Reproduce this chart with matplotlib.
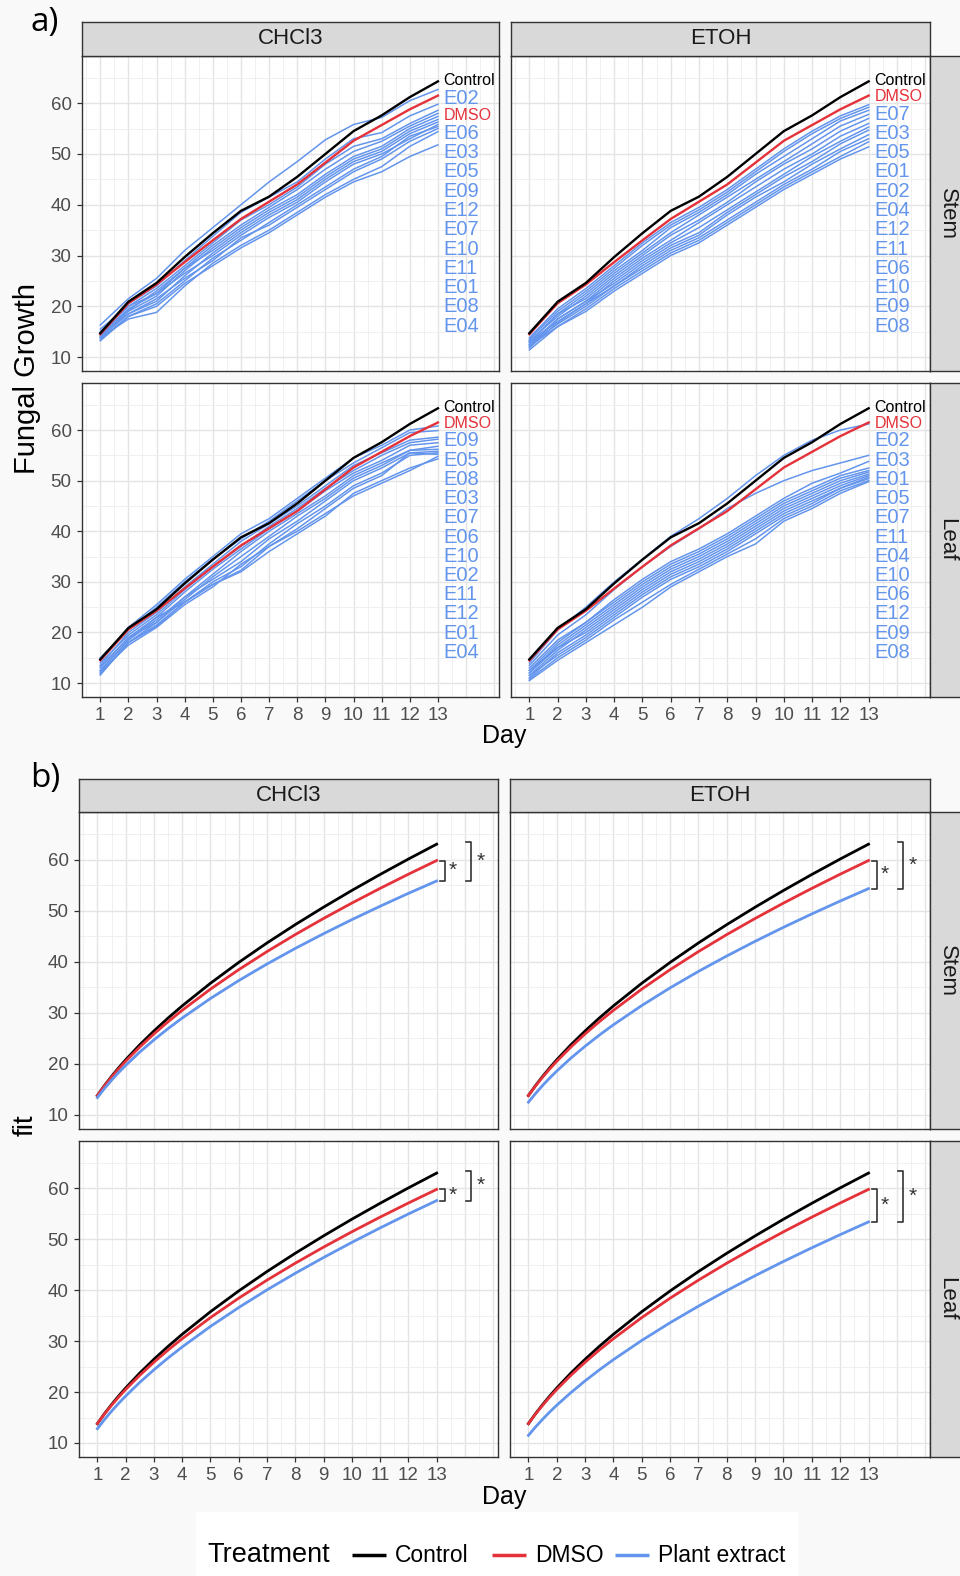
# wykres: wzrost grzyba - a) pomiary, b) dopasowanie

from matplotlib import pyplot as plt
import numpy as np

plt.rcParams['font.family'] = ['Liberation Sans', 'DejaVu Sans']

# ---------------- dane ----------------
days = list(range(1, 14))
parts = ['Stem', 'Leaf']
solvents = ['CHCl3', 'ETOH']
extracts = ['E01', 'E02', 'E03', 'E04', 'E05', 'E06',
            'E07', 'E08', 'E09', 'E10', 'E11', 'E12']
treatments = ['Control', 'DMSO', 'Plant extract']

control = [14.7, 20.9, 24.6, 29.7, 34.4, 38.8, 41.6, 45.5, 50.0, 54.5, 57.6, 61.2, 64.3]
dmso = [14.5, 20.6, 24.3, 28.7, 33.0, 37.2, 40.6, 44.0, 48.3, 52.6, 55.7, 58.8, 61.5]

# ekstrakty E01..E12
stem_chcl3 = [
    [14.5, 18.5, 21.5, 25.5, 29.0, 33.5, 36.0, 39.5, 43.0, 46.5, 49.0, 52.5, 55.0],
    [16.3, 21.5, 25.5, 31.0, 35.5, 40.0, 44.5, 48.5, 52.8, 55.8, 57.2, 60.5, 62.7],
    [14.8, 20.0, 23.5, 28.0, 32.5, 37.0, 40.0, 43.5, 48.0, 51.5, 53.0, 56.0, 58.6],
    [13.2, 18.0, 20.0, 24.5, 28.0, 31.5, 34.5, 38.0, 41.5, 44.5, 46.5, 49.5, 51.8],
    [14.5, 19.5, 22.5, 27.5, 32.0, 36.0, 39.5, 43.0, 47.0, 50.5, 52.5, 55.5, 58.0],
    [15.0, 20.5, 24.0, 29.0, 33.8, 38.5, 41.5, 44.5, 49.0, 53.0, 54.2, 57.5, 59.8],
    [13.8, 18.5, 21.0, 26.0, 30.5, 34.5, 38.0, 41.0, 45.0, 48.5, 50.5, 54.0, 56.3],
    [13.8, 17.5, 18.8, 24.0, 28.5, 32.0, 35.0, 38.5, 42.0, 45.0, 47.5, 51.5, 54.4],
    [14.0, 19.0, 22.0, 27.0, 31.5, 35.5, 39.0, 42.0, 46.0, 49.5, 51.5, 55.0, 57.4],
    [15.5, 20.0, 22.5, 26.5, 30.0, 34.0, 37.5, 40.5, 44.5, 48.0, 50.0, 53.0, 55.8],
    [13.5, 18.0, 20.5, 25.0, 29.5, 33.0, 36.5, 40.0, 43.5, 47.0, 49.5, 53.5, 55.4],
    [14.2, 19.2, 23.0, 27.5, 31.0, 35.0, 38.5, 41.5, 45.5, 49.0, 51.0, 54.5, 56.8],
]
stem_etoh = [
    [13.2, 18.0, 22.0, 26.5, 30.5, 34.5, 38.0, 41.5, 45.0, 48.5, 52.0, 55.5, 57.8],
    [12.8, 18.5, 21.5, 26.0, 30.0, 34.0, 37.0, 40.5, 44.5, 48.0, 51.0, 54.5, 57.0],
    [13.5, 19.0, 23.0, 27.5, 32.0, 36.0, 39.0, 42.5, 46.5, 50.5, 54.0, 57.0, 59.2],
    [12.5, 17.5, 21.0, 25.5, 29.5, 33.0, 36.5, 40.0, 43.5, 47.0, 50.0, 53.5, 56.0],
    [13.0, 18.5, 22.5, 27.0, 31.0, 35.5, 38.5, 42.0, 46.0, 49.5, 53.0, 56.5, 58.6],
    [12.5, 16.5, 20.0, 24.0, 28.0, 31.5, 34.0, 38.0, 41.5, 44.5, 48.0, 51.0, 53.8],
    [13.8, 19.5, 23.5, 28.0, 32.5, 36.5, 39.5, 43.0, 47.0, 51.0, 54.5, 57.5, 59.7],
    [11.4, 16.0, 19.0, 23.0, 26.5, 30.0, 32.5, 36.0, 39.5, 43.0, 46.0, 49.0, 51.4],
    [12.2, 16.0, 19.5, 23.5, 27.0, 30.5, 33.0, 36.5, 40.0, 43.5, 46.5, 49.5, 52.4],
    [11.8, 16.8, 20.5, 24.0, 27.5, 31.0, 33.5, 37.0, 40.5, 44.0, 47.0, 50.5, 53.0],
    [12.0, 17.5, 21.0, 24.5, 28.5, 32.0, 34.5, 38.5, 42.0, 45.5, 48.5, 52.0, 54.7],
    [13.0, 17.0, 20.5, 25.0, 29.0, 32.5, 35.5, 39.0, 42.5, 46.0, 49.5, 52.5, 55.3],
]
leaf_chcl3 = [
    [12.2, 17.5, 21.0, 25.5, 29.0, 33.5, 37.0, 40.0, 43.5, 47.0, 49.5, 52.0, 54.8],
    [13.2, 19.0, 22.0, 27.0, 30.5, 34.0, 38.5, 42.0, 46.0, 50.0, 52.5, 55.5, 55.8],
    [14.0, 19.5, 23.5, 28.5, 33.0, 37.0, 41.0, 44.5, 48.5, 52.0, 55.0, 57.5, 58.2],
    [11.6, 18.0, 21.2, 26.0, 29.5, 32.0, 36.0, 39.5, 43.0, 47.5, 50.0, 52.5, 54.3],
    [15.0, 20.5, 25.0, 30.0, 34.5, 38.5, 42.0, 46.0, 50.0, 53.5, 56.5, 59.5, 59.9],
    [12.5, 18.5, 22.5, 27.0, 31.5, 36.0, 40.0, 43.5, 47.0, 51.0, 53.5, 56.0, 56.8],
    [13.0, 19.0, 23.0, 28.0, 32.5, 36.5, 40.5, 44.0, 48.0, 51.5, 54.0, 57.0, 57.5],
    [13.5, 20.0, 24.0, 29.0, 33.5, 38.0, 41.5, 45.0, 49.0, 53.0, 55.5, 58.0, 58.6],
    [14.5, 21.0, 25.5, 30.5, 35.0, 39.5, 42.5, 46.5, 50.5, 54.5, 57.0, 60.0, 60.8],
    [12.0, 18.0, 22.0, 26.5, 31.0, 35.0, 39.0, 43.0, 46.5, 50.5, 53.0, 56.0, 56.2],
    [12.5, 18.5, 23.0, 26.0, 30.0, 33.0, 37.5, 41.5, 45.0, 49.0, 51.5, 55.0, 55.5],
    [11.8, 18.0, 21.5, 26.0, 29.5, 32.3, 37.0, 40.5, 44.5, 48.5, 51.0, 55.5, 55.2],
]
leaf_etoh = [
    [12.5, 18.0, 22.0, 26.5, 30.5, 34.0, 36.5, 39.5, 43.0, 46.5, 49.5, 51.5, 53.8],
    [14.0, 20.5, 25.0, 30.0, 34.5, 39.0, 42.5, 46.5, 51.0, 55.0, 58.0, 60.0, 61.2],
    [13.5, 19.5, 23.5, 28.5, 33.0, 37.0, 40.5, 44.5, 47.5, 50.0, 52.0, 53.5, 55.0],
    [11.5, 16.5, 20.5, 24.5, 28.5, 32.0, 34.5, 37.5, 41.0, 44.5, 47.0, 49.5, 51.3],
    [13.0, 18.5, 22.0, 26.0, 30.0, 33.5, 36.0, 39.0, 42.5, 46.0, 48.5, 51.0, 52.5],
    [11.0, 16.0, 19.5, 23.5, 27.5, 31.0, 33.5, 36.5, 40.0, 43.5, 46.0, 48.5, 50.7],
    [12.0, 17.5, 21.5, 25.5, 29.5, 33.0, 35.5, 38.5, 42.0, 45.5, 48.0, 50.5, 52.0],
    [10.5, 14.5, 18.0, 21.5, 25.0, 29.0, 32.0, 35.0, 37.5, 42.0, 44.5, 47.5, 49.8],
    [10.8, 15.0, 18.5, 22.5, 26.0, 29.5, 32.5, 35.5, 38.5, 42.5, 45.0, 48.0, 50.0],
    [12.0, 17.0, 20.0, 24.0, 28.0, 31.5, 34.0, 37.0, 40.5, 44.0, 46.5, 49.0, 51.0],
    [12.5, 17.0, 21.0, 25.0, 29.0, 32.5, 35.0, 38.0, 41.5, 45.0, 47.5, 50.0, 51.7],
    [11.5, 15.5, 19.0, 23.0, 27.0, 30.5, 33.0, 36.0, 39.5, 43.0, 45.5, 48.5, 50.4],
]

# kolejnosc etykiet przy koncach linii
stem_chcl3_order = ['Control', 'E02', 'DMSO', 'E06', 'E03', 'E05', 'E09', 'E12',
                    'E07', 'E10', 'E11', 'E01', 'E08', 'E04']
stem_etoh_order = ['Control', 'DMSO', 'E07', 'E03', 'E05', 'E01', 'E02', 'E04',
                   'E12', 'E11', 'E06', 'E10', 'E09', 'E08']
leaf_chcl3_order = ['Control', 'DMSO', 'E09', 'E05', 'E08', 'E03', 'E07', 'E06',
                    'E10', 'E02', 'E11', 'E12', 'E01', 'E04']
leaf_etoh_order = ['Control', 'DMSO', 'E02', 'E03', 'E01', 'E05', 'E07', 'E11',
                   'E04', 'E10', 'E06', 'E12', 'E09', 'E08']

# dopasowanie (b)
fit_days = [1, 1.25, 1.5, 1.75, 2, 2.5, 3, 3.5, 4, 5, 6, 7, 8, 9, 10, 11, 12, 13]
fit_control = [13.8, 15.75, 17.54, 19.22, 20.80, 23.74, 26.44, 28.97, 31.35, 35.78,
               39.86, 43.67, 47.26, 50.67, 53.94, 57.07, 60.09, 63.0]
fit_dmso = [13.8, 15.68, 17.40, 19.00, 20.51, 23.30, 25.86, 28.25, 30.48, 34.63,
            38.44, 41.98, 45.31, 48.46, 51.47, 54.35, 57.12, 59.80]
fit_stem_chcl3 = [13.4, 15.17, 16.79, 18.29, 19.70, 22.31, 24.69, 26.90, 28.97, 32.80,
                  36.30, 39.55, 42.60, 45.48, 48.23, 50.85, 53.38, 55.80]
fit_stem_etoh = [12.5, 14.20, 15.77, 17.22, 18.59, 21.13, 23.45, 25.62, 27.65, 31.42,
                 34.88, 38.10, 41.12, 43.99, 46.73, 49.35, 51.87, 54.30]
fit_leaf_chcl3 = [12.8, 14.59, 16.24, 17.77, 19.22, 21.91, 24.38, 26.69, 28.86, 32.89,
                  36.60, 40.07, 43.33, 46.42, 49.39, 52.23, 54.97, 57.60]
fit_leaf_etoh = [11.5, 13.14, 14.66, 16.08, 17.42, 19.90, 22.20, 24.35, 26.37, 30.14,
                 33.62, 36.87, 39.93, 42.86, 45.65, 48.33, 50.91, 53.41]

raw = {('Stem', 'CHCl3'): (stem_chcl3, stem_chcl3_order),
       ('Stem', 'ETOH'): (stem_etoh, stem_etoh_order),
       ('Leaf', 'CHCl3'): (leaf_chcl3, leaf_chcl3_order),
       ('Leaf', 'ETOH'): (leaf_etoh, leaf_etoh_order)}
fits = {('Stem', 'CHCl3'): fit_stem_chcl3, ('Stem', 'ETOH'): fit_stem_etoh,
        ('Leaf', 'CHCl3'): fit_leaf_chcl3, ('Leaf', 'ETOH'): fit_leaf_etoh}

# ---------------- wyglad ----------------
BLUE = '#6495ED'
RED = '#E5323A'
DARK = '#333333'
W, H = 960, 1576

fig = plt.figure(figsize=(W / 100, H / 100), dpi=100, facecolor='#f9f9f9')


def box(x0, x1, y0, y1):
    # osie w pikselach (od gory)
    return fig.add_axes([x0 / W, 1 - y1 / H, (x1 - x0) / W, (y1 - y0) / H])


def panel(x, y, show_x, show_y):
    ax = box(x[0], x[1], y[0], y[1])
    ax.set_facecolor('white')
    ax.set_xlim(0.35, 15.17)
    ax.set_ylim(7.25, 69.3)
    for v in np.arange(0.5, 15.01, 0.5):
        major = v % 1 == 0
        ax.axvline(v, color='#e4e4e4' if major else '#eeeeee',
                   lw=1.0 if major else 0.6, zorder=0)
    for v in range(10, 70, 5):
        major = v % 10 == 0
        ax.axhline(v, color='#e4e4e4' if major else '#eeeeee',
                   lw=1.0 if major else 0.6, zorder=0)
    ax.set_xticks(days)
    ax.set_yticks(range(10, 70, 10))
    ax.tick_params(length=3.5, width=0.9, color=DARK, labelcolor='#4d4d4d',
                   labelsize=13.5, pad=4)
    if not show_x:
        ax.tick_params(axis='x', length=0, labelbottom=False)
    if not show_y:
        ax.tick_params(axis='y', length=0, labelleft=False)
    for s in ax.spines.values():
        s.set_color(DARK)
        s.set_linewidth(1.0)
    return ax


def strip(x, y, text, rot=0):
    ax = box(x[0], x[1], y[0], y[1])
    ax.set_facecolor('#d9d9d9')
    ax.set_xticks([])
    ax.set_yticks([])
    for s in ax.spines.values():
        s.set_color(DARK)
        s.set_linewidth(1.0)
    ax.text(0.5, 0.5, text, transform=ax.transAxes, ha='center', va='center',
            fontsize=16, color='#1a1a1a', rotation=rot)


A_COLS = [(82, 499), (511, 930)]
A_ROWS = [(56, 371), (383, 697)]
B_COLS = [(79, 498), (510, 930)]
B_ROWS = [(812, 1129), (1141, 1457)]
RIGHT = (930, 964)

# ---------------- a) ----------------
for i, part in enumerate(parts):
    for j, solvent in enumerate(solvents):
        ax = panel(A_COLS[j], A_ROWS[i], i == 1, j == 0)
        series, order = raw[(part, solvent)]
        for s in series:
            ax.plot(days, s, color=BLUE, lw=1.1, zorder=2)
        ax.plot(days, dmso, color=RED, lw=1.7, zorder=3)
        ax.plot(days, control, color='black', lw=1.7, zorder=4)

        # etykiety przy koncach linii
        y = 64.4
        prev = None
        for name in order:
            h = 3.09 if name in ('Control', 'DMSO') else 3.8
            if prev is not None:
                y -= (prev + h) / 2
            prev = h
            if name == 'Control':
                col, fs = 'black', 11.5
            elif name == 'DMSO':
                col, fs = RED, 11.5
            else:
                col, fs = BLUE, 14.5
            ax.text(13.2, y, name, color=col, fontsize=fs, ha='left',
                    va='center', zorder=5)
        if i == 0:
            strip(A_COLS[j], (22, 56), solvent)
    strip(RIGHT, A_ROWS[i], part, rot=-90)

fig.text(27 / W, 1 - 379 / H, 'Fungal Growth', rotation=90, ha='center',
         va='center', fontsize=21, color='black')
fig.text(504 / W, 1 - 736 / H, 'Day', ha='center', va='center', fontsize=18)
fig.text(45 / W, 1 - 22 / H, 'a)', ha='center', va='center', fontsize=24,
         family='Open Sans')

# ---------------- b) ----------------
for i, part in enumerate(parts):
    for j, solvent in enumerate(solvents):
        ax = panel(B_COLS[j], B_ROWS[i], i == 1, j == 0)
        ext = fits[(part, solvent)]
        ax.plot(fit_days, fit_control, color='black', lw=2.0, zorder=3)
        ax.plot(fit_days, fit_dmso, color=RED, lw=2.0, zorder=3)
        ax.plot(fit_days, ext, color=BLUE, lw=2.0, zorder=3)

        # nawiasy istotnosci
        lo = ext[-1]
        for xv, top, xs in [(13.3, fit_dmso[-1], 13.58),
                            (14.22, fit_control[-1] + 0.4, 14.55)]:
            ax.plot([xv - 0.17, xv, xv, xv - 0.17], [top, top, lo, lo],
                    color=DARK, lw=1.2, zorder=4)
            ax.text(xs, (top + lo) / 2, '*', ha='center', va='center',
                    fontsize=15, color=DARK)
        if i == 0:
            strip(B_COLS[j], (779, 812), solvent)
    strip(RIGHT, B_ROWS[i], part, rot=-90)

fig.text(26 / W, 1 - 1125 / H, 'fit', rotation=90, ha='center', va='center',
         fontsize=20)
fig.text(504 / W, 1 - 1497 / H, 'Day', ha='center', va='center', fontsize=18)
fig.text(45 / W, 1 - 778 / H, 'b)', ha='center', va='center', fontsize=24,
         family='Open Sans')

# ---------------- legenda ----------------
lg = box(196, 798, 1512, 1576)
lg.set_xlim(196, 798)
lg.set_ylim(1576, 1512)
lg.set_facecolor('white')
lg.axis('off')
lg.add_patch(plt.Rectangle((196, 1512), 602, 64, facecolor='white',
                           edgecolor='none', zorder=0))
lg.text(207, 1555, 'Treatment', ha='left', va='center', fontsize=19.5)
key_x = [352, 492, 615]
for name, col, kx in zip(treatments, ['black', RED, BLUE], key_x):
    lg.plot([kx, kx + 34], [1555, 1555], color=col, lw=2.5,
            solid_capstyle='butt')
    lg.text(kx + 43, 1555, name, ha='left', va='center', fontsize=16.5)

fig.savefig('out.png', dpi=100, facecolor=fig.get_facecolor())
